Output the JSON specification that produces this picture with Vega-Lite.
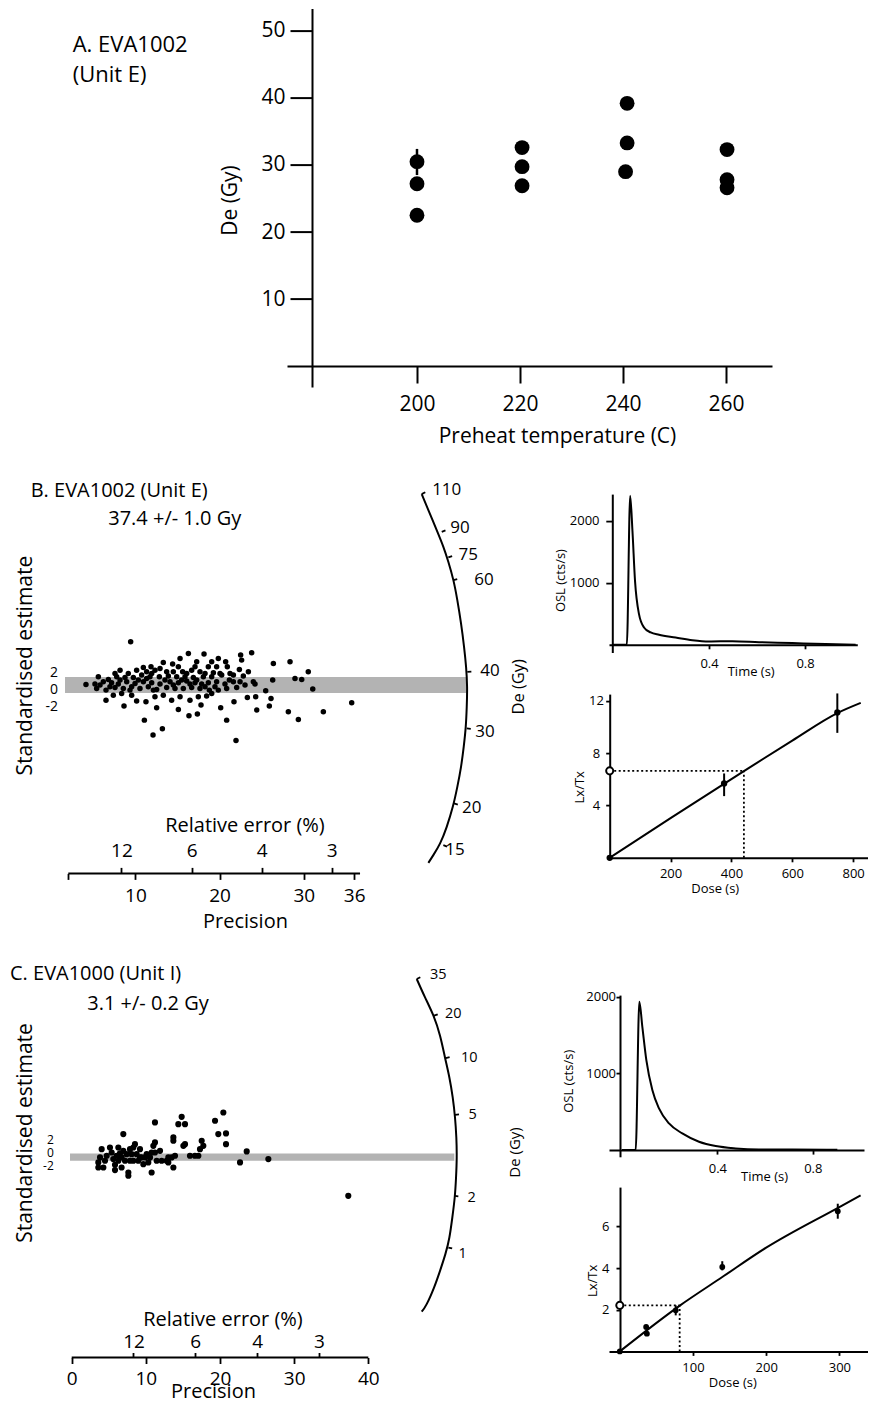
{
"$schema": "https://vega.github.io/schema/vega-lite/v6.json",
"padding": {"left": 10, "top": 8.6, "right": 0, "bottom": 5},
"background": "white",
"config": {
 "font": "Open Sans",
 "view": {"stroke": null},
 "axis": {"grid": false, "labelFont": "Open Sans", "titleFont": "Open Sans", "labelColor": "#000", "titleColor": "#000", "domainColor": "#000", "tickColor": "#000", "domainWidth": 2, "tickWidth": 1.8, "titleFontWeight": "normal", "labelFlush": false, "labelOverlap": false, "minExtent": 0, "labelBound": false},
 "text": {"font": "Open Sans", "color": "#000"}
},
"spacing": 33.5,
"vconcat": [
 {"hconcat": [
   {"width": 227, "height": 10, "data": {"values": [{"k": 0}]}, "mark": {"type": "point", "opacity": 0}},
   {"width": 485, "height": 378.4,
    "layer": [
     {"data": {"values": [{"temp":200,"de":30.5},{"temp":200,"de":27.2},{"temp":200,"de":22.5},{"temp":220.4,"de":32.6},{"temp":220.4,"de":29.75},{"temp":220.4,"de":26.9},{"temp":240.8,"de":39.2},{"temp":240.8,"de":33.3},{"temp":240.5,"de":29.0},{"temp":260.2,"de":32.3},{"temp":260.2,"de":27.8},{"temp":260.2,"de":26.6}]},
      "mark": {"type": "circle", "size": 220, "opacity": 1, "color": "#000"},
      "encoding": {
       "x": {"field": "temp", "type": "quantitative", "scale": {"domain": [174.76, 268.93], "nice": false, "zero": false},
             "axis": {"values": [200,220,240,260], "offset": -21, "tickSize": 17, "tickWidth": 2, "labelFontSize": 21, "labelPadding": 11, "title": "Preheat temperature (C)", "titleFontSize": 21, "titleX": 270, "titleY": 71, "titleBaseline": "middle"}},
       "y": {"field": "de", "type": "quantitative", "scale": {"domain": [-3.13, 53.34], "nice": false, "zero": false},
             "axis": {"values": [10,20,30,40,50], "offset": -25, "tickSize": 22, "tickWidth": 2, "labelFontSize": 21, "labelPadding": 5, "title": "De (Gy)", "titleFontSize": 21, "titleX": -82, "titleY": 191.4, "titleBaseline": "middle"}}
      }},
     {"data": {"values": [{"temp":200,"lo":28.5,"hi":32.4}]},
      "mark": {"type": "rule", "strokeWidth": 2.5, "color": "#000"},
      "encoding": {
       "x": {"field": "temp", "type": "quantitative", "scale": {"domain": [174.76, 268.93], "nice": false, "zero": false}, "axis": null},
       "y": {"field": "lo", "type": "quantitative", "scale": {"domain": [-3.13, 53.34], "nice": false, "zero": false}, "axis": null},
       "y2": {"field": "hi"}
      }},
     {"data": {"values": [{"temp":133.15,"de":47.91,"t":"A. EVA1002"},{"temp":133.15,"de":43.43,"t":"(Unit E)"}]},
      "mark": {"type": "text", "align": "left", "baseline": "middle", "fontSize": 22},
      "encoding": {
       "x": {"field": "temp", "type": "quantitative", "scale": {"domain": [174.76, 268.93], "nice": false, "zero": false}, "axis": null},
       "y": {"field": "de", "type": "quantitative", "scale": {"domain": [-3.13, 53.34], "nice": false, "zero": false}, "axis": null},
       "text": {"field": "t", "type": "nominal"}
      }}
    ],
    "resolve": {"axis": {"x": "independent", "y": "independent"}}
   }
  ], "spacing": 0, "bounds": "flush"},
 {"hconcat": [
   {"vconcat": [
     {"width": 408, "height": 379.3,
      "layer": [
       {"data": {"values": [{"p0":1.63,"p1":49.35,"s0":-0.41,"s1":1.47}]},
        "mark": {"type": "rect", "color": "#b3b3b3"},
        "encoding": {
         "x": {"field": "p0", "type": "quantitative", "scale": {"domain": [1.034, 49.52], "nice": false, "zero": false}, "axis": null},
         "x2": {"field": "p1"},
         "y": {"field": "s0", "type": "quantitative", "scale": {"domain": [-21.62, 23.0], "nice": false, "zero": false}, "axis": null},
         "y2": {"field": "s1"}
        }},
       {"data": {"values": [
{"p":9.43,"s":5.63},{"p":16.29,"s":4.25},{"p":18.15,"s":4.18},{"p":15.3,"s":3.67},{"p":17.28,"s":3.27},{"p":19.06,"s":3.27},{"p":19.85,"s":3.67},{"p":20.72,"s":3.27},{"p":22.5,"s":4.06},{"p":23.81,"s":4.33},{"p":22.62,"s":3.47},{"p":13.31,"s":3.2},{"p":14.42,"s":3.0},{"p":11.85,"s":2.69},{"p":10.94,"s":2.61},{"p":17.08,"s":2.69},{"p":18.66,"s":2.69},{"p":19.65,"s":2.69},{"p":20.92,"s":2.69},{"p":26.39,"s":3.08},{"p":28.37,"s":3.27},{"p":8.17,"s":2.29},{"p":9.15,"s":1.9},{"p":10.14,"s":2.29},{"p":11.33,"s":2.1},{"p":12.32,"s":2.29},{"p":12.92,"s":2.49},{"p":13.71,"s":2.1},{"p":14.5,"s":2.1},{"p":15.61,"s":2.1},{"p":16.09,"s":1.9},{"p":16.68,"s":2.29},{"p":17.67,"s":2.1},{"p":18.27,"s":1.9},{"p":19.26,"s":1.98},{"p":20.05,"s":1.9},{"p":21.24,"s":1.9},{"p":22.35,"s":2.37},{"p":23.42,"s":2.1},{"p":5.59,"s":1.51},{"p":6.78,"s":1.2},{"p":7.77,"s":1.51},{"p":8.76,"s":1.43},{"p":9.75,"s":1.43},{"p":10.74,"s":1.71},{"p":11.73,"s":1.51},{"p":12.84,"s":1.51},{"p":13.91,"s":1.59},{"p":14.9,"s":1.51},{"p":15.89,"s":1.51},{"p":16.88,"s":1.43},{"p":18.07,"s":1.51},{"p":19.06,"s":1.51},{"p":20.25,"s":1.71},{"p":21.64,"s":1.71},{"p":22.82,"s":1.59},{"p":24.01,"s":0.92},{"p":28.96,"s":1.31},{"p":4.12,"s":0.61},{"p":5.19,"s":0.65},{"p":6.18,"s":0.92},{"p":7.17,"s":0.8},{"p":7.96,"s":0.65},{"p":8.96,"s":0.92},{"p":9.95,"s":0.73},{"p":10.94,"s":0.92},{"p":11.93,"s":0.8},{"p":12.92,"s":0.65},{"p":14.11,"s":0.92},{"p":15.1,"s":0.8},{"p":16.09,"s":1.0},{"p":17.08,"s":0.8},{"p":17.87,"s":0.65},{"p":18.66,"s":0.8},{"p":19.65,"s":0.92},{"p":21.64,"s":0.92},{"p":24.21,"s":0.65},{"p":26.31,"s":1.12},{"p":5.39,"s":0.14},{"p":6.5,"s":-0.06},{"p":7.57,"s":0.25},{"p":8.56,"s":0.14},{"p":9.55,"s":0.33},{"p":10.54,"s":0.14},{"p":11.53,"s":0.33},{"p":12.52,"s":0.02},{"p":13.71,"s":0.25},{"p":14.7,"s":0.14},{"p":15.69,"s":0.14},{"p":16.68,"s":0.25},{"p":17.67,"s":0.14},{"p":18.78,"s":-0.06},{"p":19.85,"s":-0.06},{"p":20.84,"s":0.14},{"p":22.03,"s":0.25},{"p":23.02,"s":0.53},{"p":25.48,"s":-0.14},{"p":6.5,"s":-1.24},{"p":7.37,"s":-0.65},{"p":8.36,"s":-0.45},{"p":9.55,"s":-0.65},{"p":10.14,"s":-1.35},{"p":11.25,"s":-1.43},{"p":12.32,"s":-0.84},{"p":13.31,"s":-0.65},{"p":14.3,"s":-1.24},{"p":15.3,"s":-0.84},{"p":16.48,"s":-1.24},{"p":17.47,"s":-0.84},{"p":18.46,"s":-0.76},{"p":19.06,"s":-0.45},{"p":20.13,"s":-2.14},{"p":21.71,"s":-1.43},{"p":23.3,"s":-0.92},{"p":24.29,"s":-0.84},{"p":26.11,"s":-1.04},{"p":8.64,"s":-1.94},{"p":12.52,"s":-2.14},{"p":15.1,"s":-2.33},{"p":17.79,"s":-1.82},{"p":24.41,"s":-2.41},{"p":25.91,"s":-1.94},{"p":28.17,"s":-2.61},{"p":29.36,"s":-3.51},{"p":16.36,"s":-3.08},{"p":17.36,"s":-2.88},{"p":11.06,"s":-3.59},{"p":20.84,"s":-3.59},{"p":13.2,"s":-4.61},{"p":12.09,"s":-5.35},{"p":21.95,"s":-5.98},{"p":29.76,"s":1.2},{"p":30.54,"s":2.09},{"p":31.07,"s":0.06},{"p":32.33,"s":-2.61},{"p":35.7,"s":-1.55},{"p":5.79,"s":0.53},{"p":6.97,"s":0.33},{"p":8.17,"s":1.12},{"p":9.35,"s":-0.06},{"p":10.34,"s":1.12},{"p":11.33,"s":1.31},{"p":12.13,"s":-0.06},{"p":13.51,"s":1.12},{"p":14.5,"s":0.53},{"p":15.49,"s":1.12},{"p":16.48,"s":0.65},{"p":17.28,"s":1.12},{"p":18.27,"s":0.33},{"p":19.45,"s":0.33},{"p":20.64,"s":0.65},{"p":21.16,"s":1.12},{"p":22.43,"s":0.92},{"p":7.57,"s":1.9},{"p":11.93,"s":1.9},{"p":15.1,"s":2.69}
        ]},
        "mark": {"type": "circle", "size": 30, "opacity": 1, "color": "#000"},
        "encoding": {
         "x": {"field": "p", "type": "quantitative", "scale": {"domain": [1.034, 49.52], "nice": false, "zero": false},
               "axis": {"orient": "bottom", "values": [2.02,10,20,30,36], "labelExpr": "datum.value < 5 ? '' : '' + datum.value", "domain": false, "tickSize": 6, "labelFontSize": 19, "labelPadding": 7.5, "title": "Precision", "titleFontSize": 20, "titleX": 185, "titleY": 48.4, "titleBaseline": "middle"}},
         "y": {"field": "s", "type": "quantitative", "scale": {"domain": [-21.62, 23.0], "nice": false, "zero": false},
               "axis": {"values": [2,0,-2], "labelExpr": "'' + datum.value", "ticks": false, "tickSize": 0, "domain": false, "labelFontSize": 14, "labelPadding": 2.5, "title": "Standardised estimate", "titleFontSize": 21, "titleX": -35, "titleY": 171, "titleBaseline": "middle"}}
        }},
       {"data": {"values": [{"p0":2.02,"p1":36.69,"s":-21.62}]},
        "mark": {"type": "rule", "strokeWidth": 2, "color": "#000"},
        "encoding": {
         "x": {"field": "p0", "type": "quantitative", "scale": {"domain": [1.034, 49.52], "nice": false, "zero": false},
               "axis": {"orient": "top", "offset": -379.3, "values": [8.3333,16.6667,25,33.3333], "labelExpr": "'' + round(100/datum.value)", "domain": false, "tickSize": 6, "labelFontSize": 19, "labelPadding": 6.5, "title": "Relative error (%)", "titleFontSize": 20, "titleX": 184.5, "titleY": -48.3, "titleBaseline": "middle"}},
         "x2": {"field": "p1"},
         "y": {"field": "s", "type": "quantitative", "scale": {"domain": [-21.62, 23.0], "nice": false, "zero": false}, "axis": null}
        }},
       {"data": {"values": [{"i":1,"p":44.02,"s":23.0},{"i":2,"p":44.81,"s":21.12},{"i":3,"p":45.8,"s":18.76},{"i":4,"p":46.59,"s":16.8},{"i":5,"p":47.18,"s":15.04},{"i":6,"p":47.78,"s":12.88},{"i":7,"p":48.25,"s":10.53},{"i":8,"p":48.69,"s":7.79},{"i":9,"p":49.05,"s":5.04},{"i":10,"p":49.29,"s":2.68},{"i":11,"p":49.41,"s":0.33},{"i":12,"p":49.37,"s":-2.02},{"i":13,"p":49.25,"s":-4.38},{"i":14,"p":49.01,"s":-6.73},{"i":15,"p":48.69,"s":-9.08},{"i":16,"p":48.25,"s":-11.44},{"i":17,"p":47.71,"s":-13.79},{"i":18,"p":46.99,"s":-16.14},{"i":19,"p":46.2,"s":-18.09},{"i":20,"p":45.4,"s":-19.47},{"i":21,"p":44.81,"s":-20.38}]},
        "mark": {"type": "line", "interpolate": "natural", "strokeWidth": 2, "color": "#000"},
        "encoding": {
         "x": {"field": "p", "type": "quantitative", "scale": {"domain": [1.034, 49.52], "nice": false, "zero": false}, "axis": null},
         "y": {"field": "s", "type": "quantitative", "scale": {"domain": [-21.62, 23.0], "nice": false, "zero": false}, "axis": null},
         "order": {"field": "i", "type": "quantitative"}
        }},
       {"data": {"values": [{"p0":44.02,"s0":23.0,"p1":44.44,"s1":23.22},{"p0":46.4,"s0":18.56,"p1":46.84,"s1":18.74},{"p0":47.18,"s0":15.55,"p1":47.63,"s1":15.71},{"p0":47.78,"s0":12.88,"p1":48.24,"s1":13.01},{"p0":49.44,"s0":2.09,"p1":49.92,"s1":2.12},{"p0":49.37,"s0":-4.56,"p1":49.85,"s1":-4.61},{"p0":47.86,"s0":-13.39,"p1":48.31,"s1":-13.52},{"p0":46.59,"s0":-18.29,"p1":47.03,"s1":-18.47}]},
        "mark": {"type": "rule", "strokeWidth": 1.8, "color": "#000"},
        "encoding": {
         "x": {"field": "p0", "type": "quantitative", "scale": {"domain": [1.034, 49.52], "nice": false, "zero": false}, "axis": null},
         "x2": {"field": "p1"},
         "y": {"field": "s0", "type": "quantitative", "scale": {"domain": [-21.62, 23.0], "nice": false, "zero": false}, "axis": null},
         "y2": {"field": "s1"}
        }},
       {"data": {"values": [{"t":"110","p":46.99,"s":23.47},{"t":"90","p":48.57,"s":18.96},{"t":"75","p":49.56,"s":15.82},{"t":"60","p":51.43,"s":12.88},{"t":"40","p":52.14,"s":2.21},{"t":"30","p":51.54,"s":-5.04},{"t":"20","p":49.96,"s":-13.98},{"t":"15","p":47.98,"s":-18.88}]},
        "mark": {"type": "text", "align": "center", "baseline": "middle", "fontSize": 17},
        "encoding": {
         "x": {"field": "p", "type": "quantitative", "scale": {"domain": [1.034, 49.52], "nice": false, "zero": false}, "axis": null},
         "y": {"field": "s", "type": "quantitative", "scale": {"domain": [-21.62, 23.0], "nice": false, "zero": false}, "axis": null},
         "text": {"field": "t", "type": "nominal"}
        }},
       {"data": {"values": [{"t":"De (Gy)","p":55.62,"s":0.33}]},
        "mark": {"type": "text", "align": "center", "baseline": "middle", "fontSize": 16.5, "angle": 270},
        "encoding": {
         "x": {"field": "p", "type": "quantitative", "scale": {"domain": [1.034, 49.52], "nice": false, "zero": false}, "axis": null},
         "y": {"field": "s", "type": "quantitative", "scale": {"domain": [-21.62, 23.0], "nice": false, "zero": false}, "axis": null},
         "text": {"field": "t", "type": "nominal"}
        }},
       {"data": {"values": [{"t":"B. EVA1002 (Unit E)","p":-2.448,"s":23.35},{"t":"37.4 +/- 1.0 Gy","p":6.77,"s":20.06}]},
        "mark": {"type": "text", "align": "left", "baseline": "middle", "fontSize": 20},
        "encoding": {
         "x": {"field": "p", "type": "quantitative", "scale": {"domain": [1.034, 49.52], "nice": false, "zero": false}, "axis": null},
         "y": {"field": "s", "type": "quantitative", "scale": {"domain": [-21.62, 23.0], "nice": false, "zero": false}, "axis": null},
         "text": {"field": "t", "type": "nominal"}
        }}
      ],
      "resolve": {"axis": {"x": "independent", "y": "independent"}}
     },
     {"width": 397, "height": 378.7,
      "layer": [
       {"data": {"values": [{"p0":-0.23,"p1":51.6,"s0":-1.32,"s1":-0.19}]},
        "mark": {"type": "rect", "color": "#b3b3b3"},
        "encoding": {
         "x": {"field": "p0", "type": "quantitative", "scale": {"domain": [-1.578, 51.96], "nice": false, "zero": false}, "axis": null},
         "x2": {"field": "p1"},
         "y": {"field": "s0", "type": "quantitative", "scale": {"domain": [-31.91, 26.98], "nice": false, "zero": false}, "axis": null},
         "y2": {"field": "s1"}
        }},
       {"data": {"values": [
{"p":4.04,"s":0.49},{"p":3.82,"s":-0.8},{"p":3.59,"s":-1.58},{"p":3.59,"s":-2.36},{"p":4.27,"s":-2.36},{"p":5.16,"s":0.75},{"p":5.39,"s":-0.03},{"p":5.61,"s":-1.06},{"p":5.84,"s":-1.94},{"p":5.84,"s":-2.77},{"p":6.29,"s":0.75},{"p":6.29,"s":-1.32},{"p":6.51,"s":-0.18},{"p":6.73,"s":-2.36},{"p":6.96,"s":2.83},{"p":6.96,"s":0.23},{"p":7.19,"s":-1.32},{"p":7.41,"s":-0.29},{"p":7.64,"s":-3.14},{"p":7.64,"s":-3.65},{"p":7.86,"s":-1.32},{"p":8.08,"s":-0.29},{"p":8.31,"s":0.75},{"p":8.31,"s":-1.32},{"p":8.53,"s":1.27},{"p":8.76,"s":-0.29},{"p":8.98,"s":-1.32},{"p":9.21,"s":0.49},{"p":9.44,"s":-0.8},{"p":9.66,"s":-1.84},{"p":9.89,"s":-0.8},{"p":10.11,"s":-0.29},{"p":10.33,"s":-1.58},{"p":10.78,"s":-3.14},{"p":11.01,"s":1.01},{"p":11.23,"s":1.53},{"p":11.23,"s":4.64},{"p":11.23,"s":-0.03},{"p":11.46,"s":-1.32},{"p":12.13,"s":-1.32},{"p":12.8,"s":-1.32},{"p":13.03,"s":-1.58},{"p":13.48,"s":-0.8},{"p":13.71,"s":-2.36},{"p":13.71,"s":2.31},{"p":13.71,"s":1.79},{"p":13.93,"s":-0.54},{"p":14.38,"s":4.38},{"p":14.83,"s":5.52},{"p":15.06,"s":1.01},{"p":15.28,"s":4.38},{"p":15.28,"s":1.27},{"p":15.95,"s":-0.54},{"p":16.62,"s":-0.54},{"p":17.08,"s":-0.54},{"p":17.3,"s":0.49},{"p":17.53,"s":1.79},{"p":17.75,"s":1.01},{"p":19.33,"s":4.9},{"p":19.77,"s":2.83},{"p":20.45,"s":6.19},{"p":20.81,"s":2.93},{"p":20.81,"s":1.27},{"p":22.7,"s":-1.58},{"p":23.6,"s":0.13},{"p":26.52,"s":-1.06},{"p":37.3,"s":-6.77},{"p":4.72,"s":-0.54},{"p":4.49,"s":-1.32},{"p":6.06,"s":-0.54},{"p":6.74,"s":-0.8},{"p":7.86,"s":0.49},{"p":9.21,"s":-0.8},{"p":10.56,"s":-0.8},{"p":10.78,"s":-0.03},{"p":11.91,"s":0.23},{"p":13.03,"s":-0.8}
        ]},
        "mark": {"type": "circle", "size": 38, "opacity": 1, "color": "#000"},
        "encoding": {
         "x": {"field": "p", "type": "quantitative", "scale": {"domain": [-1.578, 51.96], "nice": false, "zero": false},
               "axis": {"orient": "bottom", "values": [0,10,20,30,40], "labelExpr": "'' + datum.value", "domain": false, "tickSize": 6, "labelFontSize": 19, "labelPadding": 6, "title": "Precision", "titleFontSize": 20, "titleX": 153, "titleY": 34, "titleBaseline": "middle"}},
         "y": {"field": "s", "type": "quantitative", "scale": {"domain": [-31.91, 26.98], "nice": false, "zero": false},
               "axis": {"values": [2,0,-2], "labelExpr": "'' + datum.value", "ticks": false, "tickSize": 0, "domain": false, "labelFontSize": 12, "labelPadding": 6.7, "title": "Standardised estimate", "titleFontSize": 21, "titleX": -35, "titleY": 153.7, "titleBaseline": "middle"}}
        }},
       {"data": {"values": [{"p0":0,"p1":40,"s":-31.91}]},
        "mark": {"type": "rule", "strokeWidth": 2, "color": "#000"},
        "encoding": {
         "x": {"field": "p0", "type": "quantitative", "scale": {"domain": [-1.578, 51.96], "nice": false, "zero": false},
               "axis": {"orient": "top", "offset": -378.7, "values": [8.3333,16.6667,25,33.3333], "labelExpr": "'' + round(100/datum.value)", "domain": false, "tickSize": 5, "labelFontSize": 19, "labelPadding": 1, "title": "Relative error (%)", "titleFontSize": 20, "titleX": 162.5, "titleY": -38.4, "titleBaseline": "middle"}},
         "x2": {"field": "p1"},
         "y": {"field": "s", "type": "quantitative", "scale": {"domain": [-31.91, 26.98], "nice": false, "zero": false}, "axis": null}
        }},
       {"data": {"values": [{"i":1,"p":46.53,"s":26.95},{"i":2,"p":47.65,"s":24.09},{"i":3,"p":48.78,"s":21.24},{"i":4,"p":49.67,"s":18.12},{"i":5,"p":50.34,"s":14.75},{"i":6,"p":50.93,"s":11.64},{"i":7,"p":51.38,"s":8.53},{"i":8,"p":51.69,"s":5.41},{"i":9,"p":51.87,"s":2.3},{"i":10,"p":51.92,"s":-0.81},{"i":11,"p":51.83,"s":-3.92},{"i":12,"p":51.65,"s":-7.03},{"i":13,"p":51.33,"s":-10.14},{"i":14,"p":50.93,"s":-13.25},{"i":15,"p":50.39,"s":-15.84},{"i":16,"p":49.67,"s":-18.43},{"i":17,"p":48.86,"s":-21.03},{"i":18,"p":47.87,"s":-23.61},{"i":19,"p":47.2,"s":-24.79}]},
        "mark": {"type": "line", "interpolate": "natural", "strokeWidth": 2, "color": "#000"},
        "encoding": {
         "x": {"field": "p", "type": "quantitative", "scale": {"domain": [-1.578, 51.96], "nice": false, "zero": false}, "axis": null},
         "y": {"field": "s", "type": "quantitative", "scale": {"domain": [-31.91, 26.98], "nice": false, "zero": false}, "axis": null},
         "order": {"field": "i", "type": "quantitative"}
        }},
       {"data": {"values": [{"p0":46.53,"s0":26.95,"p1":47.01,"s1":27.23},{"p0":48.86,"s0":21.24,"p1":49.36,"s1":21.46},{"p0":50.44,"s0":14.65,"p1":50.96,"s1":14.81},{"p0":51.69,"s0":5.83,"p1":52.23,"s1":5.89},{"p0":51.67,"s0":-6.77,"p1":52.14,"s1":-6.84},{"p0":50.79,"s0":-14.81,"p1":51.31,"s1":-14.96}]},
        "mark": {"type": "rule", "strokeWidth": 1.8, "color": "#000"},
        "encoding": {
         "x": {"field": "p0", "type": "quantitative", "scale": {"domain": [-1.578, 51.96], "nice": false, "zero": false}, "axis": null},
         "x2": {"field": "p1"},
         "y": {"field": "s0", "type": "quantitative", "scale": {"domain": [-31.91, 26.98], "nice": false, "zero": false}, "axis": null},
         "y2": {"field": "s1"}
        }},
       {"data": {"values": [{"t":"35","p":49.44,"s":27.6},{"t":"20","p":51.46,"s":21.49},{"t":"10","p":53.62,"s":14.74},{"t":"5","p":54.08,"s":5.83},{"t":"2","p":53.94,"s":-7.12},{"t":"1","p":52.73,"s":-15.74}]},
        "mark": {"type": "text", "align": "center", "baseline": "middle", "fontSize": 14.5},
        "encoding": {
         "x": {"field": "p", "type": "quantitative", "scale": {"domain": [-1.578, 51.96], "nice": false, "zero": false}, "axis": null},
         "y": {"field": "s", "type": "quantitative", "scale": {"domain": [-31.91, 26.98], "nice": false, "zero": false}, "axis": null},
         "text": {"field": "t", "type": "nominal"}
        }},
       {"data": {"values": [{"t":"De (Gy)","p":59.78,"s":-0.03}]},
        "mark": {"type": "text", "align": "center", "baseline": "middle", "fontSize": 15, "angle": 270},
        "encoding": {
         "x": {"field": "p", "type": "quantitative", "scale": {"domain": [-1.578, 51.96], "nice": false, "zero": false}, "axis": null},
         "y": {"field": "s", "type": "quantitative", "scale": {"domain": [-31.91, 26.98], "nice": false, "zero": false}, "axis": null},
         "text": {"field": "t", "type": "nominal"}
        }},
       {"data": {"values": [{"t":"C. EVA1000 (Unit I)","p":-8.32,"s":27.71},{"t":"3.1 +/- 0.2 Gy","p":2.1,"s":23.05}]},
        "mark": {"type": "text", "align": "left", "baseline": "middle", "fontSize": 20},
        "encoding": {
         "x": {"field": "p", "type": "quantitative", "scale": {"domain": [-1.578, 51.96], "nice": false, "zero": false}, "axis": null},
         "y": {"field": "s", "type": "quantitative", "scale": {"domain": [-31.91, 26.98], "nice": false, "zero": false}, "axis": null},
         "text": {"field": "t", "type": "nominal"}
        }}
      ],
      "resolve": {"axis": {"x": "independent", "y": "independent"}}
     }
    ], "spacing": 104.7, "bounds": "flush"},
   {"vconcat": [
     {"width": 248.3, "height": 158.4,
      "data": {"values": [{"t":0,"v":0},{"t":0.0576,"v":0},{"t":0.0715,"v":2403},{"t":0.081,"v":1839},{"t":0.0917,"v":1032},{"t":0.1083,"v":495},{"t":0.1292,"v":280},{"t":0.157,"v":199},{"t":0.1917,"v":161},{"t":0.2611,"v":118},{"t":0.3306,"v":75},{"t":0.4,"v":54},{"t":0.4972,"v":59},{"t":0.6083,"v":43},{"t":0.7472,"v":27},{"t":0.8861,"v":11},{"t":1.011,"v":0}]},
      "mark": {"type": "line", "interpolate": "monotone", "strokeWidth": 2, "color": "#000"},
      "encoding": {
       "x": {"field": "t", "type": "quantitative", "scale": {"domain": [-0.0167, 1.0179], "nice": false, "zero": false},
             "axis": {"values": [0.4, 0.8], "format": ".1f", "offset": -7.7, "tickSize": 4, "labelFontSize": 13, "labelPadding": 8.7, "title": "Time (s)", "titleFontSize": 13, "titleX": 141.7, "titleY": 27, "titleBaseline": "middle"}},
       "y": {"field": "v", "type": "quantitative", "scale": {"domain": [-124.2, 2430.6], "nice": false, "zero": false},
             "axis": {"values": [1000, 2000], "format": "d", "offset": -3.3, "tickSize": 6.5, "labelFontSize": 13, "labelPadding": 6.8, "title": "OSL (cts/s)", "titleFontSize": 13, "titleX": -51.6, "titleY": 86, "titleBaseline": "middle"}}
      }},
     {"width": 1, "height": 41, "data": {"values": [{"k": 0}]}, "mark": {"type": "point", "opacity": 0}},
     {"width": 259, "height": 163.7,
      "layer": [
       {"data": {"values": [{"d":0,"l":0},{"d":200,"l":3.03},{"d":441,"l":6.62},{"d":600,"l":8.95},{"d":748,"l":11.05},{"d":825,"l":11.83}]},
        "mark": {"type": "line", "interpolate": "monotone", "strokeWidth": 2, "color": "#000"},
        "encoding": {
         "x": {"field": "d", "type": "quantitative", "scale": {"domain": [-2.3, 848.8], "nice": false, "zero": false},
               "axis": {"values": [200,400,600,800], "format": "d", "tickSize": 4, "labelFontSize": 13, "labelPadding": 6, "title": "Dose (s)", "titleFontSize": 13, "titleX": 105.7, "titleY": 30.6, "titleBaseline": "middle"}},
         "y": {"field": "l", "type": "quantitative", "scale": {"domain": [0, 12.5], "nice": false, "zero": false},
               "axis": {"values": [4,8,12], "format": "d", "offset": -0.7, "tickSize": 4, "labelFontSize": 13, "labelPadding": 9.7, "labelAlign": "center", "title": "Lx/Tx", "titleFontSize": 13, "titleX": -30, "titleY": 92.7, "titleBaseline": "middle"}}
        }},
       {"data": {"values": [{"d0":0,"d1":441,"l0":6.64,"l1":6.64},{"d0":441,"d1":441,"l0":0,"l1":6.64}]},
        "mark": {"type": "rule", "strokeWidth": 1.8, "strokeDash": [2, 2.5], "color": "#000"},
        "encoding": {
         "x": {"field": "d0", "type": "quantitative", "scale": {"domain": [-2.3, 848.8], "nice": false, "zero": false}, "axis": null},
         "x2": {"field": "d1"},
         "y": {"field": "l0", "type": "quantitative", "scale": {"domain": [0, 12.5], "nice": false, "zero": false}, "axis": null},
         "y2": {"field": "l1"}
        }},
       {"data": {"values": [{"d":376,"lo":4.71,"hi":6.44},{"d":748,"lo":9.54,"hi":12.55}]},
        "mark": {"type": "rule", "strokeWidth": 2, "color": "#000"},
        "encoding": {
         "x": {"field": "d", "type": "quantitative", "scale": {"domain": [-2.3, 848.8], "nice": false, "zero": false}, "axis": null},
         "y": {"field": "lo", "type": "quantitative", "scale": {"domain": [0, 12.5], "nice": false, "zero": false}, "axis": null},
         "y2": {"field": "hi"}
        }},
       {"data": {"values": [{"d":0,"l":0},{"d":376,"l":5.68},{"d":748,"l":11.1}]},
        "mark": {"type": "circle", "size": 40, "opacity": 1, "color": "#000"},
        "encoding": {
         "x": {"field": "d", "type": "quantitative", "scale": {"domain": [-2.3, 848.8], "nice": false, "zero": false}, "axis": null},
         "y": {"field": "l", "type": "quantitative", "scale": {"domain": [0, 12.5], "nice": false, "zero": false}, "axis": null}
        }},
       {"data": {"values": [{"d":0,"l":6.64}]},
        "mark": {"type": "point", "shape": "circle", "filled": false, "fill": "white", "stroke": "#000", "strokeWidth": 2, "size": 50, "opacity": 1},
        "encoding": {
         "x": {"field": "d", "type": "quantitative", "scale": {"domain": [-2.3, 848.8], "nice": false, "zero": false}, "axis": null},
         "y": {"field": "l", "type": "quantitative", "scale": {"domain": [0, 12.5], "nice": false, "zero": false}, "axis": null}
        }}
      ],
      "resolve": {"axis": {"x": "independent", "y": "independent"}}
     },
     {"width": 1, "height": 137, "data": {"values": [{"k": 0}]}, "mark": {"type": "point", "opacity": 0}},
     {"width": 255, "height": 161.7,
      "data": {"values": [{"t":0,"v":0},{"t":0.0573,"v":0},{"t":0.0727,"v":1934},{"t":0.0853,"v":1608},{"t":0.1021,"v":1173},{"t":0.1272,"v":782},{"t":0.1551,"v":543},{"t":0.1971,"v":348},{"t":0.2529,"v":217},{"t":0.3229,"v":109},{"t":0.3927,"v":52},{"t":0.4767,"v":22},{"t":0.5744,"v":9},{"t":0.7141,"v":9},{"t":0.9029,"v":4}]},
      "mark": {"type": "line", "interpolate": "monotone", "strokeWidth": 2, "color": "#000"},
      "encoding": {
       "x": {"field": "t", "type": "quantitative", "scale": {"domain": [-0.0545, 1.0147], "nice": false, "zero": false},
             "axis": {"values": [0.4, 0.8], "format": ".1f", "offset": -6.7, "tickSize": 4, "labelFontSize": 13, "labelPadding": 8.7, "title": "Time (s)", "titleFontSize": 13, "titleX": 155, "titleY": 26.7, "titleBaseline": "middle"}},
       "y": {"field": "v", "type": "quantitative", "scale": {"domain": [-87.4, 2020.9], "nice": false, "zero": false},
             "axis": {"values": [1000, 2000], "format": "d", "offset": -11, "tickSize": 4, "labelFontSize": 13, "labelPadding": 0.5, "title": "OSL (cts/s)", "titleFontSize": 13, "titleX": -51, "titleY": 85.7, "titleBaseline": "middle"}}
      }},
     {"width": 1, "height": 29.5, "data": {"values": [{"k": 0}]}, "mark": {"type": "point", "opacity": 0}},
     {"width": 259, "height": 164.3,
      "layer": [
       {"data": {"values": [{"d":0,"l":0},{"d":82,"l":2.2},{"d":140,"l":3.57},{"d":200,"l":4.98},{"d":300,"l":6.93},{"d":329,"l":7.49}]},
        "mark": {"type": "line", "interpolate": "monotone", "strokeWidth": 2, "color": "#000"},
        "encoding": {
         "x": {"field": "d", "type": "quantitative", "scale": {"domain": [-14.75, 339.1], "nice": false, "zero": false},
               "axis": {"values": [100,200,300], "format": "d", "tickSize": 4, "labelFontSize": 13, "labelPadding": 6, "title": "Dose (s)", "titleFontSize": 13, "titleX": 123.3, "titleY": 30.7, "titleBaseline": "middle"}},
         "y": {"field": "l", "type": "quantitative", "scale": {"domain": [0, 7.888], "nice": false, "zero": false},
               "axis": {"values": [2,4,6], "format": "d", "offset": -11, "tickSize": 4, "labelFontSize": 13, "labelPadding": 7, "title": "Lx/Tx", "titleFontSize": 13, "titleX": -27.7, "titleY": 93.3, "titleBaseline": "middle"}}
        }},
       {"data": {"values": [{"d0":0,"d1":81.8,"l0":2.21,"l1":2.21},{"d0":81.8,"d1":81.8,"l0":0,"l1":2.21}]},
        "mark": {"type": "rule", "strokeWidth": 1.8, "strokeDash": [2, 2.5], "color": "#000"},
        "encoding": {
         "x": {"field": "d0", "type": "quantitative", "scale": {"domain": [-14.75, 339.1], "nice": false, "zero": false}, "axis": null},
         "x2": {"field": "d1"},
         "y": {"field": "l0", "type": "quantitative", "scale": {"domain": [0, 7.888], "nice": false, "zero": false}, "axis": null},
         "y2": {"field": "l1"}
        }},
       {"data": {"values": [{"d":76.4,"lo":1.73,"hi":2.21},{"d":140,"lo":3.89,"hi":4.33},{"d":297.8,"lo":6.37,"hi":7.09}]},
        "mark": {"type": "rule", "strokeWidth": 2, "color": "#000"},
        "encoding": {
         "x": {"field": "d", "type": "quantitative", "scale": {"domain": [-14.75, 339.1], "nice": false, "zero": false}, "axis": null},
         "y": {"field": "lo", "type": "quantitative", "scale": {"domain": [0, 7.888], "nice": false, "zero": false}, "axis": null},
         "y2": {"field": "hi"}
        }},
       {"data": {"values": [{"d":0,"l":0},{"d":36,"l":1.17},{"d":37,"l":0.85},{"d":76.4,"l":1.97},{"d":140,"l":4.05},{"d":297.8,"l":6.73}]},
        "mark": {"type": "circle", "size": 34, "opacity": 1, "color": "#000"},
        "encoding": {
         "x": {"field": "d", "type": "quantitative", "scale": {"domain": [-14.75, 339.1], "nice": false, "zero": false}, "axis": null},
         "y": {"field": "l", "type": "quantitative", "scale": {"domain": [0, 7.888], "nice": false, "zero": false}, "axis": null}
        }},
       {"data": {"values": [{"d":0,"l":2.21}]},
        "mark": {"type": "point", "shape": "circle", "filled": false, "fill": "white", "stroke": "#000", "strokeWidth": 2, "size": 50, "opacity": 1},
        "encoding": {
         "x": {"field": "d", "type": "quantitative", "scale": {"domain": [-14.75, 339.1], "nice": false, "zero": false}, "axis": null},
         "y": {"field": "l", "type": "quantitative", "scale": {"domain": [0, 7.888], "nice": false, "zero": false}, "axis": null}
        }}
      ],
      "resolve": {"axis": {"x": "independent", "y": "independent"}}
     }
    ], "spacing": 0, "bounds": "flush"}
  ], "spacing": 26}
]
}
